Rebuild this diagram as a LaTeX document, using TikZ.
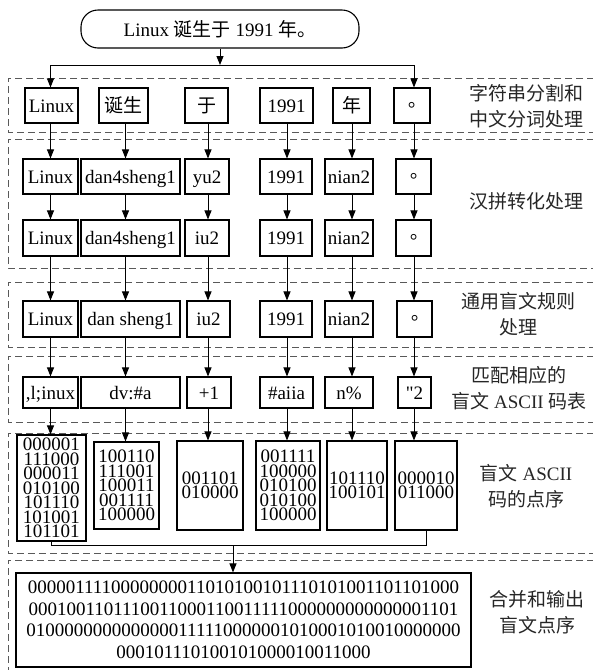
\documentclass[tikz,border=0pt]{standalone}
\usepackage{fontspec}
\setmainfont{Liberation Serif}[Ligatures=TeXOff]
\newfontfamily\cjk{Noto Sans CJK SC}
\newfontfamily\cjktc{Noto Sans CJK TC}
\usetikzlibrary{arrows.meta}
\begin{document}
\begin{tikzpicture}[x=1pt,y=-1pt,
  box/.style={draw,line width=1.1pt,inner sep=0pt,minimum height=35pt,text height=13pt,text depth=0pt,font=\fontsize{19}{19}\selectfont},
  dotbox/.style={draw,line width=1.1pt,inner sep=0pt,align=center,font=\fontsize{19}{14.5}\selectfont},
  panel/.style={draw=black!65,dash pattern=on 7pt off 4pt,line width=0.9pt},
  arr/.style={line width=0.9pt,-{Triangle[length=9pt,width=7pt]}},
  conn/.style={line width=0.9pt},
  lab/.style={align=center,font=\fontsize{19}{26}\selectfont,text=black!85}]
\useasboundingbox (0,0) rectangle (593,670);

% panels
\draw[panel] (605,78) -- (8,78) -- (8,132) -- (605,132);
\draw[panel] (605,139) -- (8,139) -- (8,268) -- (605,268);
\draw[panel] (605,282) -- (8,282) -- (8,347) -- (605,347);
\draw[panel] (605,356) -- (8,356) -- (8,422) -- (605,422);
\draw[panel] (605,433) -- (8,433) -- (8,553) -- (605,553);
\draw[panel] (605,560) -- (8,560) -- (8,690);

% columns
\coordinate (c1) at (50.5,0);
\coordinate (c2) at (125.5,0);
\coordinate (c3) at (208,0);
\coordinate (c4) at (287,0);
\coordinate (c5) at (352,0);
\coordinate (c6) at (414,0);

% top node
\node[draw,line width=1.1pt,rounded corners=17pt,minimum width=278pt,minimum height=38pt,font=\fontsize{19}{19}\selectfont] (top) at (220,29) {Linux {\cjk 诞生于} 1991 {\cjk 年。}};
\coordinate (split) at (220,65);

% row 1
\node[box,minimum width=53pt] (r1a) at (51.5,105.5) {Linux};
\node[box,minimum width=49pt] (r1b) at (123.5,105.5) {\cjk 诞生};
\node[box,minimum width=43pt] (r1c) at (206.5,105.5) {\cjk 于};
\node[box,minimum width=53pt] (r1d) at (286.5,105.5) {1991};
\node[box,minimum width=37pt] (r1e) at (351.5,105.5) {\cjk 年};
\node[box,minimum width=36pt] (r1f) at (412,105.5) {\cjktc 。};

% row 2
\node[box,minimum width=55pt] (r2a) at (50.5,176.5) {Linux};
\node[box,minimum width=99pt] (r2b) at (130.5,176.5) {dan4sheng1};
\node[box,minimum width=44pt] (r2c) at (207,176.5) {yu2};
\node[box,minimum width=52pt] (r2d) at (286,176.5) {1991};
\node[box,minimum width=48pt] (r2e) at (349,176.5) {nian2};
\node[box,minimum width=35pt] (r2f) at (413.5,176.5) {\cjktc 。};

% row 3
\node[box,minimum width=55pt,minimum height=36pt] (r3a) at (50.5,238) {Linux};
\node[box,minimum width=99pt,minimum height=36pt] (r3b) at (130.5,238) {dan4sheng1};
\node[box,minimum width=44pt,minimum height=36pt] (r3c) at (207,238) {iu2};
\node[box,minimum width=52pt,minimum height=36pt] (r3d) at (286,238) {1991};
\node[box,minimum width=48pt,minimum height=36pt] (r3e) at (349,238) {nian2};
\node[box,minimum width=35pt,minimum height=36pt] (r3f) at (413.5,238) {\cjktc 。};

% row 4
\node[box,minimum width=55pt,minimum height=36pt] (r4a) at (50.5,319) {Linux};
\node[box,minimum width=99pt,minimum height=36pt] (r4b) at (130.5,319) {dan sheng1};
\node[box,minimum width=43pt,minimum height=36pt] (r4c) at (208.5,319) {iu2};
\node[box,minimum width=52pt,minimum height=36pt] (r4d) at (286,319) {1991};
\node[box,minimum width=48pt,minimum height=36pt] (r4e) at (349,319) {nian2};
\node[box,minimum width=35pt,minimum height=36pt] (r4f) at (414.5,319) {\cjktc 。};

% row 5
\node[box,minimum width=55pt,minimum height=31pt] (r5a) at (50.5,392.5) {,l;inux};
\node[box,minimum width=99pt,minimum height=31pt] (r5b) at (130.5,392.5) {dv:\#a};
\node[box,minimum width=44pt,minimum height=31pt] (r5c) at (209,392.5) {+1};
\node[box,minimum width=53pt,minimum height=31pt] (r5d) at (286.5,392.5) {\#aiia};
\node[box,minimum width=48pt,minimum height=31pt] (r5e) at (349,392.5) {n\%};
\node[box,minimum width=33pt,minimum height=31pt] (r5f) at (414.5,392.5) {"2};

% dot boxes
\node[dotbox,minimum width=69pt,minimum height=106pt] (d1) at (51.5,488) {000001\\111000\\000011\\010100\\101110\\101001\\101101};
\node[dotbox,minimum width=65pt,minimum height=87pt] (d2) at (126.5,485.5) {100110\\111001\\100011\\001111\\100000};
\node[dotbox,minimum width=66pt,minimum height=89pt] (d3) at (210,485.5) {001101\\010000};
\node[dotbox,minimum width=64pt,minimum height=89pt] (d4) at (288,485.5) {001111\\100000\\010100\\010100\\100000};
\node[dotbox,minimum width=60pt,minimum height=89pt] (d5) at (357,485.5) {101110\\100101};
\node[dotbox,minimum width=62pt,minimum height=89pt] (d6) at (426,485.5) {000010\\011000};

% output box
\node[draw,line width=1.1pt,inner sep=0pt,minimum width=455pt,minimum height=94pt,align=center,font=\fontsize{19}{21.5}\selectfont] (out) at (243.5,620)
 {0000011110000000011010100101110101001101101000\\0001001101110011000110011111000000000000001101\\0100000000000000111110000001010001010010000000\\000101110100101000010011000};

% labels
\node[lab] (l1) at (526,106) {\cjk 字符串分割和\\\cjk 中文分词处理};
\node[lab] (l2) at (526,201) {\cjk 汉拼转化处理};
\node[lab] (l3) at (518,314.5) {\cjk 通用盲文规则\\\cjk 处理};
\node[lab] (l4) at (519,388) {\cjk 匹配相应的\\{\cjk 盲文} ASCII {\cjk 码表}};
\node[lab] (l5) at (526,486.5) {{\cjk 盲文} ASCII\\\cjk 码的点序};
\node[lab] (l6) at (537,612) {\cjk 合并和输出\\\cjk 盲文点序};

% connectors
\draw[arr] (top.south) -- (top.south |- split);
\draw[conn] (split -| c1) -- (split -| c6);
\draw[arr] (split -| c1) -- (r1a.north -| c1);
\draw[arr] (split -| c6) -- (r1f.north -| c6);

\foreach \u/\l in {r1/r2,r2/r3,r3/r4,r4/r5}{
  \foreach \k/\c in {a/c1,b/c2,c/c3,d/c4,e/c5,f/c6}{
    \draw[arr] (\u\k.south -| \c) -- (\l\k.north -| \c);
  }
}
\foreach \k/\n/\c in {a/1/c1,b/2/c2,c/3/c3,d/4/c4,e/5/c5,f/6/c6}{
  \draw[arr] (r5\k.south -| \c) -- (d\n.north -| \c);
}

\coordinate (coll) at (233,545);
\draw[conn] (d1.south) -- (d1.south |- coll) -- (coll -| d6.south) -- (d6.south);
\draw[arr] (coll) -- (coll |- out.north);
\end{tikzpicture}
\end{document}
